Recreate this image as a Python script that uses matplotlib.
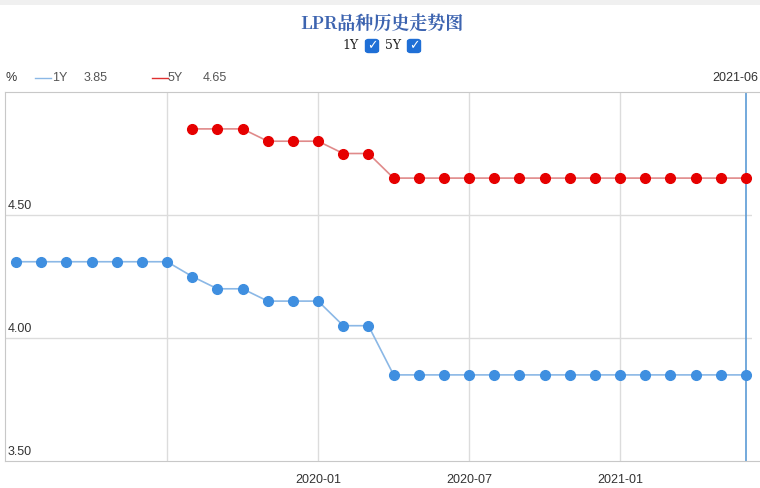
import numpy as np
import matplotlib.pyplot as plt
from matplotlib.patches import FancyBboxPatch, Rectangle

plt.rcParams['font.family'] = ['Liberation Sans', 'Noto Sans CJK SC', 'DejaVu Sans']

# meses 2019-01 .. 2021-06
months = ["2019-01", "2019-02", "2019-03", "2019-04", "2019-05", "2019-06",
          "2019-07", "2019-08", "2019-09", "2019-10", "2019-11", "2019-12",
          "2020-01", "2020-02", "2020-03", "2020-04", "2020-05", "2020-06",
          "2020-07", "2020-08", "2020-09", "2020-10", "2020-11", "2020-12",
          "2021-01", "2021-02", "2021-03", "2021-04", "2021-05", "2021-06"]
lpr_1y = [4.31, 4.31, 4.31, 4.31, 4.31, 4.31, 4.31, 4.25, 4.20, 4.20, 4.15, 4.15,
          4.15, 4.05, 4.05, 3.85, 3.85, 3.85, 3.85, 3.85, 3.85, 3.85, 3.85, 3.85,
          3.85, 3.85, 3.85, 3.85, 3.85, 3.85]
lpr_5y = [None] * 7 + [4.85, 4.85, 4.85, 4.80, 4.80, 4.80, 4.75, 4.75, 4.65,
                       4.65, 4.65, 4.65, 4.65, 4.65, 4.65, 4.65, 4.65, 4.65,
                       4.65, 4.65, 4.65, 4.65, 4.65]
y_ticks = [3.50, 4.00, 4.50]
x_labels = ["2020-01", "2020-07", "2021-01"]

W, H = 760, 488
fig = plt.figure(figsize=(W / 100, H / 100), dpi=100)
fig.patch.set_facecolor("white")

# franja gris superior
fig.patches.append(Rectangle((0, 1 - 5 / H), 1, 5 / H, transform=fig.transFigure,
                             facecolor="#f0f0f0", edgecolor="none"))

ax = fig.add_axes([5 / W, (H - 461) / H, (752 - 5) / W, (461 - 92) / H])
x = np.arange(len(months))
y5 = np.array([np.nan if v is None else v for v in lpr_5y])

ax.plot(x, lpr_1y, color="#8bb8e6", lw=1.2, marker="o", ms=7,
        mfc="#3f8fe0", mec="#3f8fe0", zorder=3)
ax.plot(x, y5, color="#e08a8a", lw=1.2, marker="o", ms=7,
        mfc="#e60000", mec="#e60000", zorder=3)

ax.set_xlim(-0.44, 29.24)
ax.set_ylim(3.5, 5.0)
ax.set_xticks([])
ax.set_yticks([])

for v in y_ticks[1:]:
    ax.axhline(v, color="#dcdcdc", lw=1, zorder=1)
for lab in ["2019-07"] + x_labels:
    ax.axvline(months.index(lab), color="#dcdcdc", lw=1, zorder=1)
# linea del cursor
ax.axvline(len(months) - 1, color="#5b9bd5", lw=1.2, zorder=2)

for s in ["top", "left", "bottom"]:
    ax.spines[s].set_color("#c8c8c8")
ax.spines["right"].set_visible(False)
ax.spines["top"].set_bounds(-0.44, 30)
ax.spines["bottom"].set_bounds(-0.44, 30)

for v in y_ticks:
    ax.text(0.004, v + 0.012, f"{v:.2f}", transform=ax.get_yaxis_transform(),
            fontsize=9, color="#333333", ha="left", va="bottom")
for lab in x_labels:
    ax.text(months.index(lab), -0.035, lab, transform=ax.get_xaxis_transform(),
            fontsize=9, color="#333333", ha="center", va="top")

# cabecera
fig.text(758 / W, 1 - 78 / H, months[-1], fontsize=9, color="#333333",
         ha="right", va="center")
fig.text(6 / W, 1 - 78 / H, "%", fontsize=9, color="#333333", va="center")
fig.lines.append(plt.Line2D([35 / W, 51 / W], [1 - 78 / H] * 2, color="#8bb8e6",
                            lw=1, transform=fig.transFigure))
fig.text(52 / W, 1 - 78 / H, "1Y", fontsize=9, color="#555555", va="center")
fig.text(84 / W, 1 - 78 / H, "3.85", fontsize=9, color="#555555", va="center")
fig.lines.append(plt.Line2D([152 / W, 168 / W], [1 - 78 / H] * 2, color="#e03030",
                            lw=1, transform=fig.transFigure))
fig.text(168 / W, 1 - 78 / H, "5Y", fontsize=9, color="#555555", va="center")
fig.text(203 / W, 1 - 78 / H, "4.65", fontsize=9, color="#555555", va="center")

fig.text(382 / W, 1 - 25 / H, "LPR品种历史走势图", fontsize=13, fontweight="bold",
         color="#3d64b0", ha="center", va="center",
         family=["Noto Serif CJK SC", "Noto Sans CJK SC", "DejaVu Sans"])

# casillas
fig.text(351 / W, 1 - 46 / H, "1Y", fontsize=9, color="#222222", ha="center",
         va="center", family=["DejaVu Serif"])
fig.text(393 / W, 1 - 46 / H, "5Y", fontsize=9, color="#222222", ha="center",
         va="center", family=["DejaVu Serif"])
for cx in [372, 414]:
    fig.patches.append(FancyBboxPatch(((cx - 6.5) / W, 1 - 52.5 / H), 13 / W, 13 / H,
                                      boxstyle="round,pad=0,rounding_size=0.004",
                                      transform=fig.transFigure,
                                      facecolor="#1f6fd6", edgecolor="#1f6fd6"))
    fig.text(cx / W, 1 - 46 / H, "✓", fontsize=9, color="white", ha="center",
             va="center", fontweight="bold", family=["DejaVu Sans"])

fig.savefig("out.png", dpi=100)
